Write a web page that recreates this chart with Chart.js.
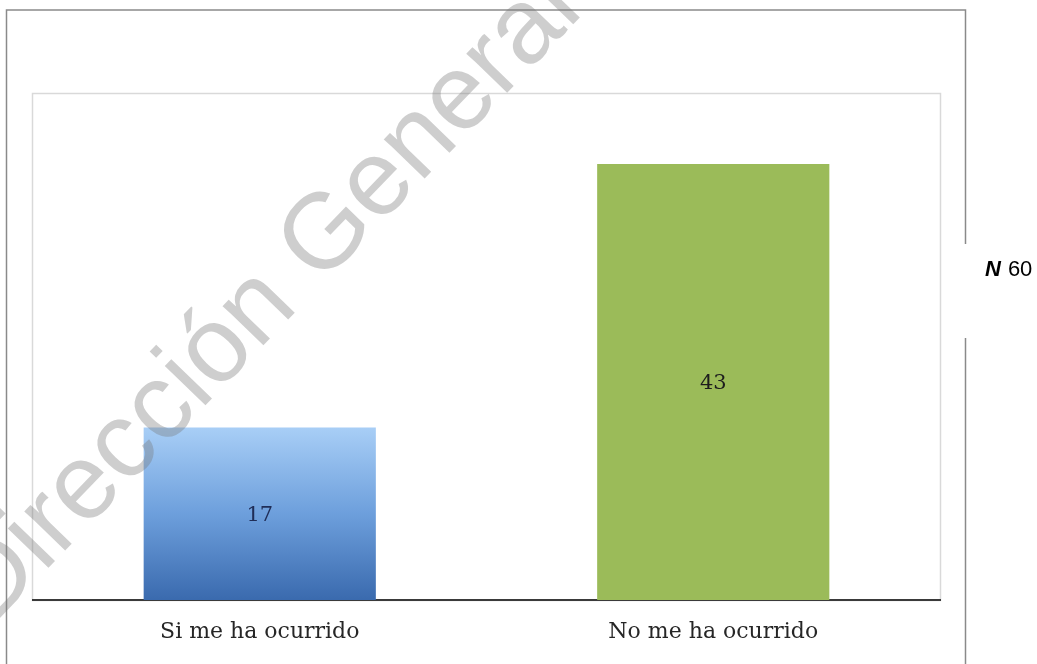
<!DOCTYPE html>
<html>
<head>
<meta charset="utf-8">
<script src="https://cdn.jsdelivr.net/npm/chart.js@4.4.0/dist/chart.umd.min.js"></script>
<style>
  html, body { margin: 0; padding: 0; background: #ffffff; }
  #wrap { position: relative; width: 1037px; height: 664px; }
</style>
</head>
<body>
<div id="wrap"><canvas id="c" width="1037" height="664"></canvas></div>
<script>
const categories = ["Si me ha ocurrido", "No me ha ocurrido"];
const values = [17, 43];
const yMax = 50;
const sampleLabel = "N";
const sampleValue = "60";
const watermarkText = "Dirección General";

const frameAndText = {
  id: 'frameAndText',
  beforeDraw(chart) {
    const ctx = chart.ctx;
    const a = chart.chartArea;
    ctx.save();
    ctx.strokeStyle = '#8a8a8a';
    ctx.lineWidth = 1.5;
    ctx.beginPath();
    ctx.moveTo(6.5, 664);
    ctx.lineTo(6.5, 10);
    ctx.lineTo(965.5, 10);
    ctx.lineTo(965.5, 244);
    ctx.moveTo(965.5, 338);
    ctx.lineTo(965.5, 664);
    ctx.stroke();
    ctx.strokeStyle = '#d9d9d9';
    ctx.lineWidth = 1.5;
    ctx.strokeRect(a.left - 0.5, a.top + 0.5, a.right - a.left + 1, a.bottom - a.top);
    ctx.restore();
  },
  afterDatasetsDraw(chart) {
    const ctx = chart.ctx;
    const meta = chart.getDatasetMeta(0);
    ctx.save();
    ctx.font = '21px "DejaVu Serif", serif';
    ctx.textAlign = 'center';
    ctx.textBaseline = 'middle';
    const colors = ['#1f2d57', '#1d1d1d'];
    meta.data.forEach((bar, i) => {
      ctx.fillStyle = colors[i];
      ctx.fillText(String(values[i]), bar.x, (bar.y + bar.base) / 2 + 2);
    });
    ctx.restore();
  },
  afterDraw(chart) {
    const ctx = chart.ctx;
    ctx.save();
    ctx.fillStyle = '#000000';
    ctx.textBaseline = 'middle';
    ctx.textAlign = 'left';
    ctx.font = 'italic bold 22px "Liberation Sans", Arial, sans-serif';
    ctx.fillText(sampleLabel, 985, 270);
    const w = ctx.measureText(sampleLabel).width;
    ctx.font = '22px "Liberation Sans", Arial, sans-serif';
    ctx.fillText(sampleValue, 985 + w + 7, 270);
    // watermark
    ctx.translate(266, 300);
    ctx.rotate(-46 * Math.PI / 180);
    ctx.font = '107px "Liberation Sans", Arial, sans-serif';
    ctx.textAlign = 'center';
    ctx.textBaseline = 'middle';
    ctx.fillStyle = 'rgba(120,120,120,0.36)';
    ctx.fillText(watermarkText, 0, 0);
    ctx.restore();
  }
};

const ctx = document.getElementById('c').getContext('2d');
new Chart(ctx, {
  type: 'bar',
  data: {
    labels: categories,
    datasets: [{
      data: values,
      backgroundColor: (c) => {
        if (c.dataIndex === 1) return '#9bbb59';
        const area = c.chart.chartArea;
        if (!area) return '#5b8fd0';
        const top = c.chart.scales.y.getPixelForValue(values[0]);
        const bottom = c.chart.scales.y.getPixelForValue(0);
        const g = c.chart.ctx.createLinearGradient(0, top, 0, bottom);
        g.addColorStop(0, '#a8cef6');
        g.addColorStop(0.5, '#6d9fdc');
        g.addColorStop(1, '#3a6aae');
        return g;
      },
      borderWidth: 0,
      categoryPercentage: 1.0,
      barPercentage: 0.512
    }]
  },
  options: {
    responsive: false,
    animation: false,
    layout: { padding: { left: 33, right: 97, top: 93, bottom: 0 } },
    plugins: { legend: { display: false }, tooltip: { enabled: false } },
    scales: {
      x: {
        grid: { display: false, drawTicks: false },
        border: { display: true, color: '#3a3a3a', width: 2 },
        ticks: { color: '#262626', font: { family: '"DejaVu Serif", serif', size: 22 }, padding: 19 },
        afterFit(scale) { scale.height = 64; }
      },
      y: {
        display: false,
        min: 0,
        max: yMax
      }
    }
  },
  plugins: [frameAndText]
});
</script>
</body>
</html>
